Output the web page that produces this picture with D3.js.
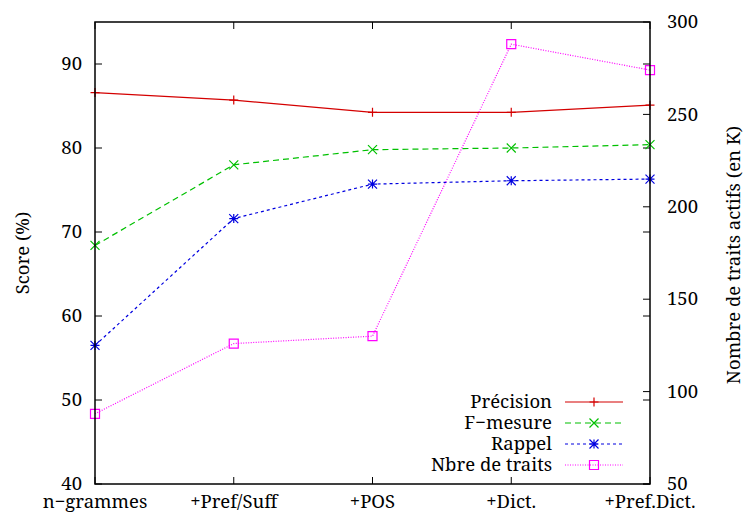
<!DOCTYPE html>
<html><head><meta charset="utf-8">
<script src="https://cdn.jsdelivr.net/npm/d3@7"></script>
<style>body{margin:0;background:#fff} svg text{fill:#000}</style>
</head><body>
<svg id="c" width="747" height="514"></svg>
<script>
const categories = ["n\u2212grammes", "+Pref/Suff", "+POS", "+Dict.", "+Pref.Dict."];
const precision = [86.6, 85.7, 84.25, 84.25, 85.1];
const fmesure = [68.4, 78.0, 79.8, 80.0, 80.4];
const rappel = [56.5, 71.6, 75.7, 76.1, 76.3];
const nbreTraits = [88, 126, 130, 288, 274];
const leftTicks = [40, 50, 60, 70, 80, 90];
const rightTicks = [50, 100, 150, 200, 250, 300];

const L = 95, R = 650, T = 22, B = 484;
const svg = d3.select("#c");
const x = d3.scalePoint().domain(categories).range([L, R]).padding(0);
const y = d3.scaleLinear().domain([40, 95]).range([B, T]);
const y2 = d3.scaleLinear().domain([50, 300]).range([B, T]);
const fs = 18.5, tl = 7;
const FONT = "'Noto Serif',serif";

const series = [
  {name: "Précision", vals: precision, scale: y, color: "#d40000", dash: null, marker: "plus"},
  {name: "F\u2212mesure", vals: fmesure, scale: y, color: "#00c000", dash: "6,4", marker: "x"},
  {name: "Rappel", vals: rappel, scale: y, color: "#0000e0", dash: "3,3", marker: "star"},
  {name: "Nbre de traits", vals: nbreTraits, scale: y2, color: "#ff00ff", dash: "1,1.5", marker: "square"}
];

function marker(g, type, cx, cy, color) {
  const s = 4.5;
  const p = [];
  if (type === "plus" || type === "star") { p.push(`M${cx-s},${cy}H${cx+s}M${cx},${cy-s}V${cy+s}`); }
  if (type === "x" || type === "star") { p.push(`M${cx-s},${cy-s}L${cx+s},${cy+s}M${cx-s},${cy+s}L${cx+s},${cy-s}`); }
  if (type === "square") { p.push(`M${cx-s},${cy-s}H${cx+s}V${cy+s}H${cx-s}Z`); }
  g.append("path").attr("d", p.join("")).attr("fill", "none").attr("stroke", color).attr("stroke-width", 1.2);
}

const axG = svg.append("g").attr("stroke", "#000").attr("stroke-width", 1);
leftTicks.forEach(v => {
  axG.append("line").attr("x1", L).attr("x2", L + tl).attr("y1", y(v)).attr("y2", y(v));
  axG.append("line").attr("x1", R).attr("x2", R - tl).attr("y1", y(v)).attr("y2", y(v));
});
rightTicks.forEach(v => {
  axG.append("line").attr("x1", R).attr("x2", R - tl).attr("y1", y2(v)).attr("y2", y2(v));
});
categories.forEach(c => {
  axG.append("line").attr("x1", x(c)).attr("x2", x(c)).attr("y1", B).attr("y2", B - tl);
  axG.append("line").attr("x1", x(c)).attr("x2", x(c)).attr("y1", T).attr("y2", T + tl);
});

svg.append("g").selectAll("text").data(leftTicks).join("text")
  .attr("x", L - 13).attr("y", d => y(d)).attr("dy", "0.34em").attr("text-anchor", "end")
  .attr("font-family", FONT).attr("font-size", fs).text(d => d);
svg.append("g").selectAll("text").data(rightTicks).join("text")
  .attr("x", R + 17).attr("y", d => y2(d)).attr("dy", "0.34em").attr("text-anchor", "start")
  .attr("font-family", FONT).attr("font-size", fs).text(d => d);
svg.append("g").selectAll("text").data(categories).join("text")
  .attr("x", d => x(d)).attr("y", 508).attr("text-anchor", "middle")
  .attr("font-family", FONT).attr("font-size", fs).text(d => d);

svg.append("text").attr("transform", "translate(29,253) rotate(-90)").attr("text-anchor", "middle")
  .attr("font-family", FONT).attr("font-size", fs).text("Score (%)");
svg.append("text").attr("transform", "translate(740,255) rotate(-90)").attr("text-anchor", "middle")
  .attr("font-family", FONT).attr("font-size", fs).text("Nombre de traits actifs (en K)");

series.forEach(s => {
  const line = d3.line().x((d, i) => x(categories[i])).y(d => s.scale(d));
  svg.append("path").datum(s.vals).attr("d", line).attr("fill", "none")
    .attr("stroke", s.color).attr("stroke-width", 1.2).attr("stroke-dasharray", s.dash);
  const g = svg.append("g");
  s.vals.forEach((v, i) => marker(g, s.marker, x(categories[i]), s.scale(v), s.color));
});

const legY = [402, 423, 444, 465];
series.forEach((s, i) => {
  const ly = legY[i];
  svg.append("text").attr("x", 552).attr("y", ly).attr("dy", "0.34em").attr("text-anchor", "end")
    .attr("font-family", FONT).attr("font-size", fs).text(s.name);
  svg.append("line").attr("x1", 565).attr("x2", 623).attr("y1", ly).attr("y2", ly)
    .attr("stroke", s.color).attr("stroke-width", 1.2).attr("stroke-dasharray", s.dash);
  marker(svg, s.marker, 594, ly, s.color);
});

svg.append("rect").attr("x", L).attr("y", T).attr("width", R - L).attr("height", B - T)
  .attr("fill", "none").attr("stroke", "#000").attr("stroke-width", 1.5);
</script>
</body></html>
